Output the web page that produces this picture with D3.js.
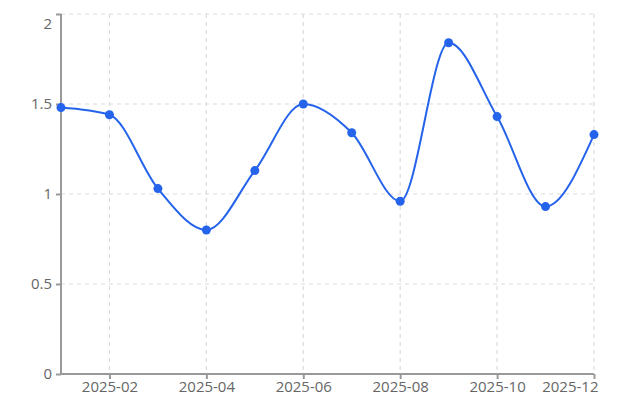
<!DOCTYPE html>
<html><head><meta charset="utf-8">
<script src="https://cdn.jsdelivr.net/npm/d3@7"></script>
<style>body{margin:0;background:#fff;}svg{display:block;font-family:"Open Sans","Noto Sans",sans-serif;}</style>
</head><body>
<svg id="c" width="620" height="410"></svg>
<script>
const months = ["2025-01","2025-02","2025-03","2025-04","2025-05","2025-06","2025-07","2025-08","2025-09","2025-10","2025-11","2025-12"];
const values = [1.48,1.44,1.03,0.80,1.13,1.50,1.34,0.96,1.84,1.43,0.93,1.33];
const xTickLabels = ["2025-02","2025-04","2025-06","2025-08","2025-10","2025-12"];
const yTicks = [0,0.5,1,1.5,2];

const svg = d3.select("#c");
const m = {l:61, r:26, t:14, b:36};
const W = 620, H = 410;
const x = d3.scalePoint().domain(months).range([m.l, W-m.r]);
const y = d3.scaleLinear().domain([0,2]).range([H-m.b, m.t]);

// grid
svg.append("g").selectAll("line").data(yTicks.filter(d=>d>0)).join("line")
  .attr("x1", m.l).attr("x2", W-m.r).attr("y1", d=>y(d)).attr("y2", d=>y(d))
  .attr("stroke","#dcdcdc").attr("stroke-dasharray","4,4").attr("stroke-width",1.2);
svg.append("g").selectAll("line").data(xTickLabels).join("line")
  .attr("y1", m.t).attr("y2", H-m.b).attr("x1", d=>x(d)).attr("x2", d=>x(d))
  .attr("stroke","#dcdcdc").attr("stroke-dasharray","4,4").attr("stroke-width",1.2);

// axes
const yAxis = svg.append("g").attr("transform",`translate(${m.l},0)`)
  .call(d3.axisLeft(y).tickValues(yTicks).tickSize(5).tickPadding(4).tickFormat(d=>String(d)));
const xAxis = svg.append("g").attr("transform",`translate(0,${H-m.b})`)
  .call(d3.axisBottom(x).tickValues(xTickLabels).tickSize(5).tickPadding(2));
[yAxis,xAxis].forEach(a=>{
  a.select(".domain").attr("stroke","#999").attr("stroke-width",2);
  a.selectAll(".tick line").attr("stroke","#999").attr("stroke-width",2);
  a.selectAll("text").attr("fill","#666").style("font-size","15px").style("font-family",'"Open Sans","Noto Sans",sans-serif');
});
xAxis.select(".domain").attr("d",`M${m.l},0H${W-m.r}`);
yAxis.select(".domain").attr("d",`M0,${m.t}V${H-m.b}`);
// keep edge labels inside the chart box
yAxis.selectAll(".tick").filter(d=>d===2).select("text").attr("dy","0.95em");
xAxis.selectAll(".tick").filter(d=>d==="2025-12").select("text").attr("text-anchor","end").attr("x",4);

const data = months.map((mo,i)=>({mo, v:values[i]}));
svg.append("path").datum(data)
  .attr("fill","none").attr("stroke","#2563eb").attr("stroke-width",2)
  .attr("d", d3.line().x(d=>x(d.mo)).y(d=>y(d.v)).curve(d3.curveMonotoneX));
svg.append("g").selectAll("circle").data(data).join("circle")
  .attr("cx",d=>x(d.mo)).attr("cy",d=>y(d.v)).attr("r",4.5).attr("fill","#2563eb");
</script>
</body></html>
